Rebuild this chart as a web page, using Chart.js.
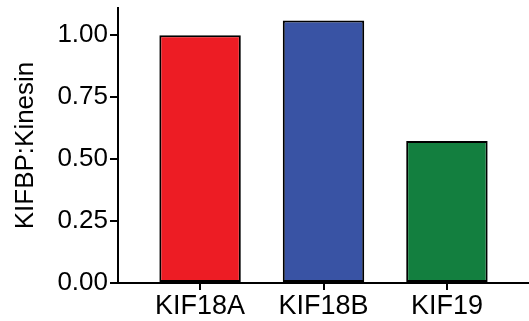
<!DOCTYPE html>
<html>
<head>
<meta charset="utf-8">
<script src="https://cdn.jsdelivr.net/npm/chart.js@4"></script>
<style>
  body { margin: 0; background: #fff; }
  #wrap { width: 529px; height: 321px; }
</style>
</head>
<body>
<div id="wrap"><canvas id="myChart" width="529" height="321"></canvas></div>
<script>
const kinesins = ['KIF18A', 'KIF18B', 'KIF19'];
const ratio = [1.00, 1.06, 0.573];
const barColors = ['#ED1C24', '#3953A4', '#137F3F'];
const yTicks = [0, 0.25, 0.5, 0.75, 1.0];
const yTitle = 'KIFBP:Kinesin';

const fontFamily = "'Liberation Sans', Arial, sans-serif";

new Chart('myChart', {
  type: 'bar',
  data: {
    datasets: [{
      data: ratio.map(function (v, i) { return { x: i, y: v }; }),
      backgroundColor: barColors,
      borderColor: '#000',
      borderWidth: 2,
      borderSkipped: false,
      barPercentage: 0.66,
      categoryPercentage: 1
    }]
  },
  options: {
    responsive: false,
    animation: false,
    layout: { padding: { top: 8, right: 0, left: 0, bottom: 0 } },
    plugins: { legend: { display: false }, tooltip: { enabled: false } },
    scales: {
      x: {
        type: 'linear',
        offset: false,
        min: -0.665,
        max: 2.665,
        afterBuildTicks: function (scale) {
          scale.ticks = kinesins.map(function (k, i) { return { value: i }; });
        },
        afterFit: function (scale) {
          scale.height = 38;
          scale.paddingLeft = 0;
          scale.paddingRight = 0;
        },
        ticks: {
          color: '#000',
          font: { family: fontFamily, size: 27 },
          padding: 0,
          maxRotation: 0,
          autoSkip: false,
          callback: function (v) { return kinesins[v]; }
        },
        grid: { offset: false, drawOnChartArea: false, drawTicks: true, tickLength: 7, color: '#000', lineWidth: 2 },
        border: { color: '#000', width: 2 }
      },
      y: {
        min: 0,
        max: 1.11,
        afterBuildTicks: function (scale) {
          scale.ticks = yTicks.map(function (v) { return { value: v }; });
        },
        afterFit: function (scale) {
          scale.width = 118;
          scale.paddingTop = 0;
          scale.paddingBottom = 0;
        },
        ticks: {
          color: '#000',
          font: { family: fontFamily, size: 26 },
          padding: 2,
          callback: function (v) { return v.toFixed(2); }
        },
        grid: { drawOnChartArea: false, drawTicks: true, tickLength: 8, color: '#000', lineWidth: 2 },
        border: { color: '#000', width: 2 },
        title: {
          display: true,
          text: yTitle,
          color: '#000',
          font: { family: fontFamily, size: 26 },
          padding: { top: 10, bottom: 0 }
        }
      }
    }
  }
});
</script>
</body>
</html>
